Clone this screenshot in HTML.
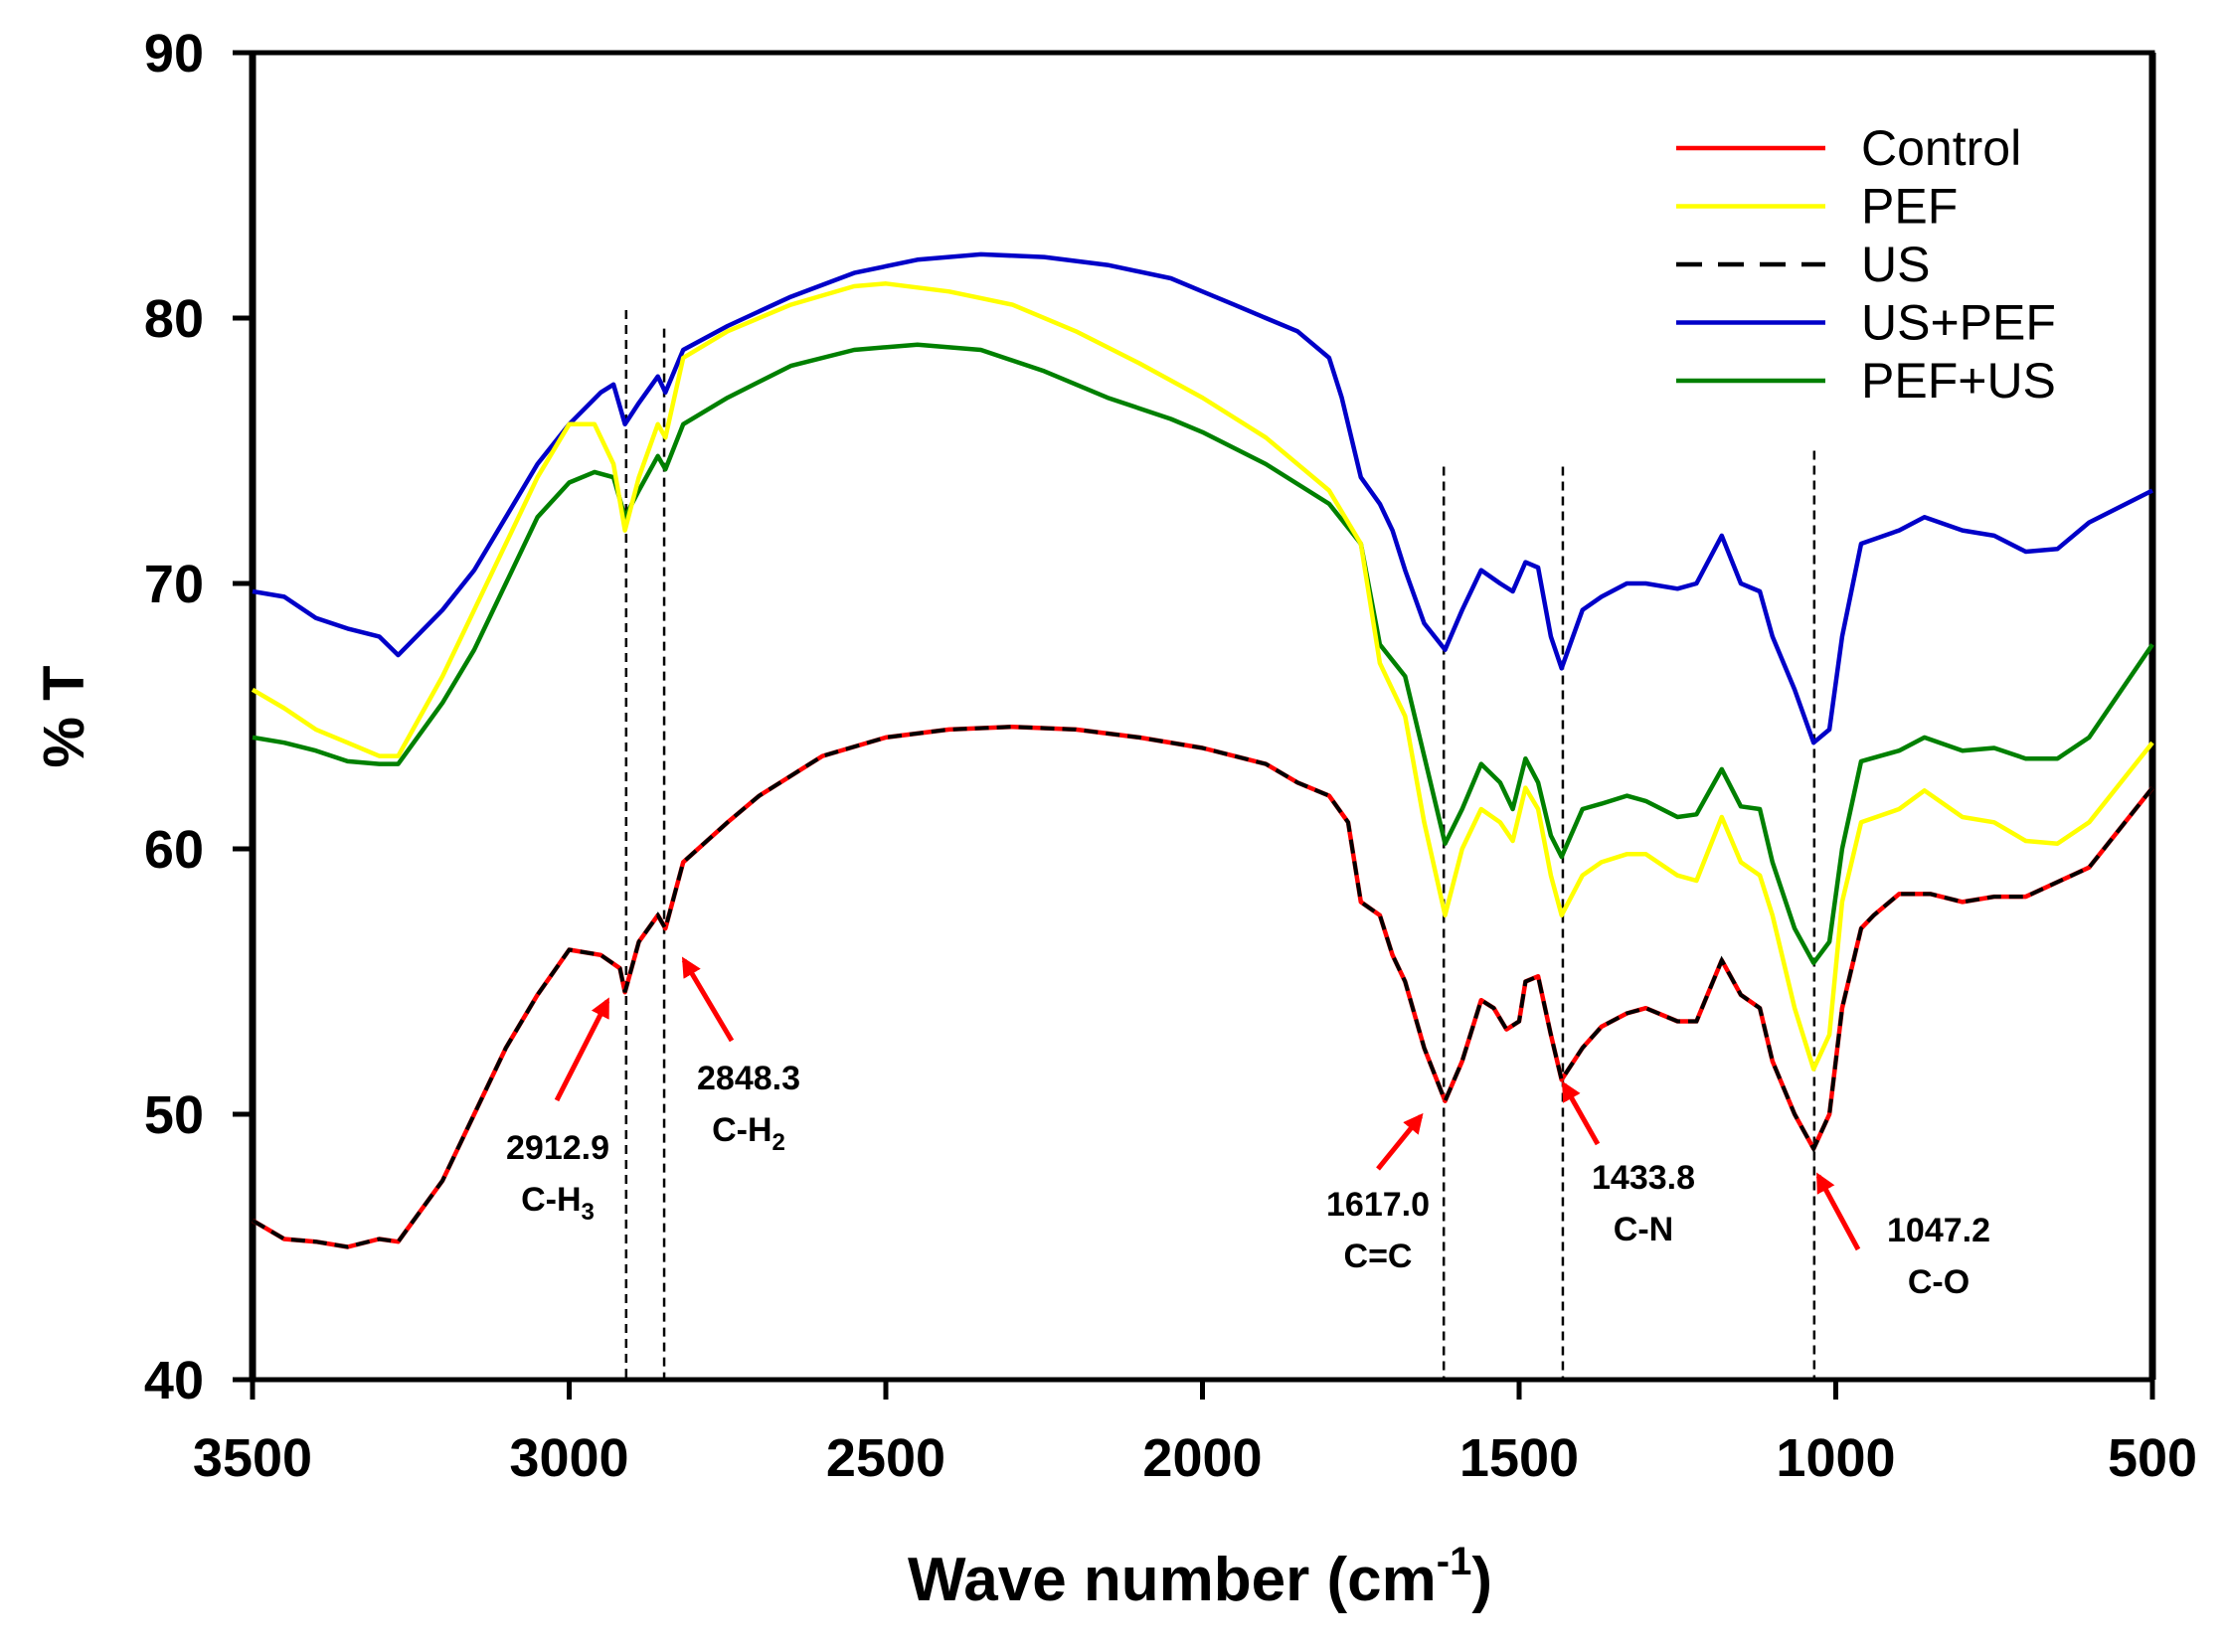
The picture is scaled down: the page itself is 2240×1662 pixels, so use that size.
<!DOCTYPE html>
<html><head><meta charset="utf-8"><style>
html,body{margin:0;padding:0;background:#fff;}
svg{display:block;font-family:"Liberation Sans",Arial,sans-serif;}
</style></head><body>
<svg id="chart" width="2240" height="1662" viewBox="0 0 2240 1662" xmlns="http://www.w3.org/2000/svg">
<defs>
<marker id="ah" viewBox="0 0 10 10" refX="8" refY="5" markerWidth="4" markerHeight="4" orient="auto"><path d="M0,0 L10,5 L0,10 z" fill="#ff0000"/></marker>
</defs>
<g id="plot"></g>
</svg>
<script>
const xTicks=[3500,3000,2500,2000,1500,1000,500];
const yTicks=[40,50,60,70,80,90];
const wnControl=[3500,3450,3400,3350,3300,3270,3200,3150,3100,3050,3000,2950,2920,2912,2890,2860,2848,2820,2750,2700,2600,2500,2400,2300,2200,2100,2000,1900,1850,1800,1770,1750,1720,1700,1680,1650,1617,1590,1560,1540,1520,1500,1490,1470,1450,1433,1400,1370,1330,1300,1250,1220,1180,1150,1120,1100,1065,1035,1010,990,960,940,900,850,800,750,700,600,500];
const tControl=[46,45.3,45.2,45.0,45.3,45.2,47.5,50,52.5,54.5,56.2,56.0,55.5,54.6,56.5,57.5,57,59.5,61,62,63.5,64.2,64.5,64.6,64.5,64.2,63.8,63.2,62.5,62,61,58,57.5,56,55,52.5,50.5,52,54.3,54,53.2,53.5,55,55.2,53,51.3,52.5,53.3,53.8,54,53.5,53.5,55.8,54.5,54,52,50,48.7,50,54,57,57.5,58.3,58.3,58,58.2,58.2,59.3,62.3];
const wnPEF=[3500,3450,3400,3350,3300,3270,3200,3150,3100,3050,3000,2960,2930,2912,2890,2860,2848,2820,2750,2650,2550,2500,2400,2300,2200,2100,2000,1900,1800,1750,1720,1680,1650,1617,1590,1560,1530,1510,1490,1470,1450,1433,1400,1370,1330,1300,1250,1220,1180,1150,1120,1100,1065,1035,1010,990,960,900,860,800,750,700,650,600,500];
const tPEF=[66,65.3,64.5,64,63.5,63.5,66.5,69,71.5,74,76,76,74.5,72,74,76,75.5,78.5,79.5,80.5,81.2,81.3,81,80.5,79.5,78.3,77,75.5,73.5,71.5,67,65,61,57.5,60,61.5,61,60.3,62.3,61.5,59,57.5,59,59.5,59.8,59.8,59,58.8,61.2,59.5,59,57.5,54,51.7,53,58,61,61.5,62.2,61.2,61,60.3,60.2,61,64];
const wnUSPEF=[3500,3450,3400,3350,3300,3270,3200,3150,3100,3050,3000,2950,2930,2912,2890,2860,2848,2820,2750,2650,2550,2450,2350,2250,2150,2050,2000,1950,1900,1850,1800,1780,1750,1720,1700,1680,1650,1617,1590,1560,1530,1510,1490,1470,1450,1433,1400,1370,1330,1300,1250,1220,1180,1150,1120,1100,1065,1035,1010,990,960,900,860,800,750,700,650,600,500];
const tUSPEF=[69.7,69.5,68.7,68.3,68,67.3,69,70.5,72.5,74.5,76,77.2,77.5,76,76.8,77.8,77.2,78.8,79.7,80.8,81.7,82.2,82.4,82.3,82,81.5,81,80.5,80,79.5,78.5,77,74,73,72,70.5,68.5,67.5,69,70.5,70,69.7,70.8,70.6,68,66.8,69,69.5,70,70,69.8,70,71.8,70,69.7,68,66,64,64.5,68,71.5,72,72.5,72,71.8,71.2,71.3,72.3,73.5];
const wnPEFUS=[3500,3450,3400,3350,3300,3270,3200,3150,3100,3050,3000,2960,2930,2912,2890,2860,2848,2820,2750,2650,2550,2450,2350,2250,2150,2050,2000,1900,1800,1750,1720,1680,1650,1617,1590,1560,1530,1510,1490,1470,1450,1433,1400,1370,1330,1300,1250,1220,1180,1150,1120,1100,1065,1035,1010,990,960,900,860,800,750,700,650,600,500];
const tPEFUS=[64.2,64,63.7,63.3,63.2,63.2,65.5,67.5,70,72.5,73.8,74.2,74,72.5,73.5,74.8,74.3,76,77,78.2,78.8,79,78.8,78,77,76.2,75.7,74.5,73,71.5,67.7,66.5,63.5,60.2,61.5,63.2,62.5,61.5,63.4,62.5,60.5,59.7,61.5,61.7,62,61.8,61.2,61.3,63,61.6,61.5,59.5,57,55.7,56.5,60,63.3,63.7,64.2,63.7,63.8,63.4,63.4,64.2,67.7];
const peakLineWn=[2910,2850,1619,1431,1034];
const peakTop=[80.3,79.6,74.4,74.4,75];
const peakLabels=["2912.9","2848.3","1617.0","1433.8","1047.2"];
const bondLabels=[["C-H","3"],["C-H","2"],["C=C",""],["C-N",""],["C-O",""]];
const legendNames=["Control","PEF","US","US+PEF","PEF+US"];

const X0=254,X1=2165,Y0=1388,Y1=53;
const xs=v=>X0+(3500-v)/3000*(X1-X0);
const ys=v=>Y0-(v-40)/50*(Y0-Y1);
const NS="http://www.w3.org/2000/svg";
const g=document.getElementById('plot');
function el(tag,attrs,parent){const e=document.createElementNS(NS,tag);for(const k in attrs)e.setAttribute(k,attrs[k]);(parent||g).appendChild(e);return e;}
function pathD(wn,t){return wn.map((w,i)=>(i?'L':'M')+xs(w).toFixed(1)+','+ys(t[i]).toFixed(1)).join(' ');}

let fr=el('rect',{x:X0,y:Y1,width:X1-X0,height:Y0-Y1,fill:'none',stroke:'#000','stroke-width':5});


let la=el('line',{x1:X0,y1:Y1,x2:X0,y2:Y0,stroke:'#000','stroke-width':7});


let ra=el('line',{x1:X1,y1:Y1,x2:X1,y2:Y0,stroke:'#000','stroke-width':7});



yTicks.forEach(v=>{
  const tk=el('line',{x1:X0-20,y1:ys(v),x2:X0,y2:ys(v),stroke:'#000','stroke-width':5});
  
  
  const tx=el('text',{x:205,y:ys(v)+19,'text-anchor':'end','font-size':54,'font-weight':'bold'});
  tx.textContent=v;
  
  
});
xTicks.forEach(v=>{
  const tk=el('line',{x1:xs(v),y1:Y0,x2:xs(v),y2:Y0+20,stroke:'#000','stroke-width':5});
  
  
  const tx=el('text',{x:xs(v),y:1485,'text-anchor':'middle','font-size':54,'font-weight':'bold'});
  tx.textContent=v;
  
  
});

peakLineWn.forEach((w,i)=>{
  const l=el('line',{x1:xs(w),y1:ys(peakTop[i]),x2:xs(w),y2:Y0,stroke:'#000','stroke-width':2.5,'stroke-dasharray':'9,6'});
  
  
});

const series=[[wnUSPEF,tUSPEF,'#0000c8','us-pef-line'],[wnPEFUS,tPEFUS,'#008000','pef-us-line'],[wnPEF,tPEF,'#ffff00','pef-line'],[wnControl,tControl,'#ff0000','control-line']];
series.forEach(s=>{
  const p=el('path',{d:pathD(s[0],s[1]),fill:'none',stroke:s[2],'stroke-width':4.5,'stroke-linejoin':'round'});
  
  
});
const us=el('path',{d:pathD(wnControl,tControl),fill:'none',stroke:'#000','stroke-width':4,'stroke-dasharray':'14,8'});



const labelPos=[[561,1166],[753,1096],[1386,1223],[1653,1196],[1950,1249]];
const arrows=[[560,1107,611,1007],[736,1047,688,966],[1386,1176,1429,1123],[1607,1151,1573,1091],[1869,1257,1829,1183]];
arrows.forEach(a=>{
  const l=el('line',{x1:a[0],y1:a[1],x2:a[2],y2:a[3],stroke:'#ff0000','stroke-width':5,'marker-end':'url(#ah)'});
  
  
});
labelPos.forEach((p,i)=>{
  const t=el('text',{x:p[0],y:p[1],'text-anchor':'middle','font-size':34,'font-weight':'bold'});
  t.textContent=peakLabels[i];
  
  
  const b=el('text',{x:p[0],y:p[1]+52,'text-anchor':'middle','font-size':34,'font-weight':'bold'});
  b.textContent=bondLabels[i][0];
  if(bondLabels[i][1]){const s=el('tspan',{'font-size':24,dy:9},b);s.textContent=bondLabels[i][1];}
  
  
});

const legColors=['#ff0000','#ffff00','#000','#0000c8','#008000'];
legendNames.forEach((n,i)=>{
  const y=149+i*58.5;
  const l=el('line',{x1:1686,y1:y,x2:1836,y2:y,stroke:legColors[i],'stroke-width':4.5});
  if(i===2)l.setAttribute('stroke-dasharray','26,16');
  
  
  const t=el('text',{x:1872,y:y+17,'font-size':50});
  t.textContent=n;
  
  
});

const xt=el('text',{x:1207,y:1610,'text-anchor':'middle','font-size':62,'font-weight':'bold'});
xt.textContent='Wave number (cm';
const sup=el('tspan',{'font-size':40,dy:-26},xt);sup.textContent='-1';
const cl=el('tspan',{dy:26},xt);cl.textContent=')';


const yt=el('text',{x:0,y:0,'text-anchor':'middle','font-size':58,'font-weight':'bold',transform:'translate(84,721) rotate(-90)'});
yt.textContent='% T';


</script>
</body></html>
